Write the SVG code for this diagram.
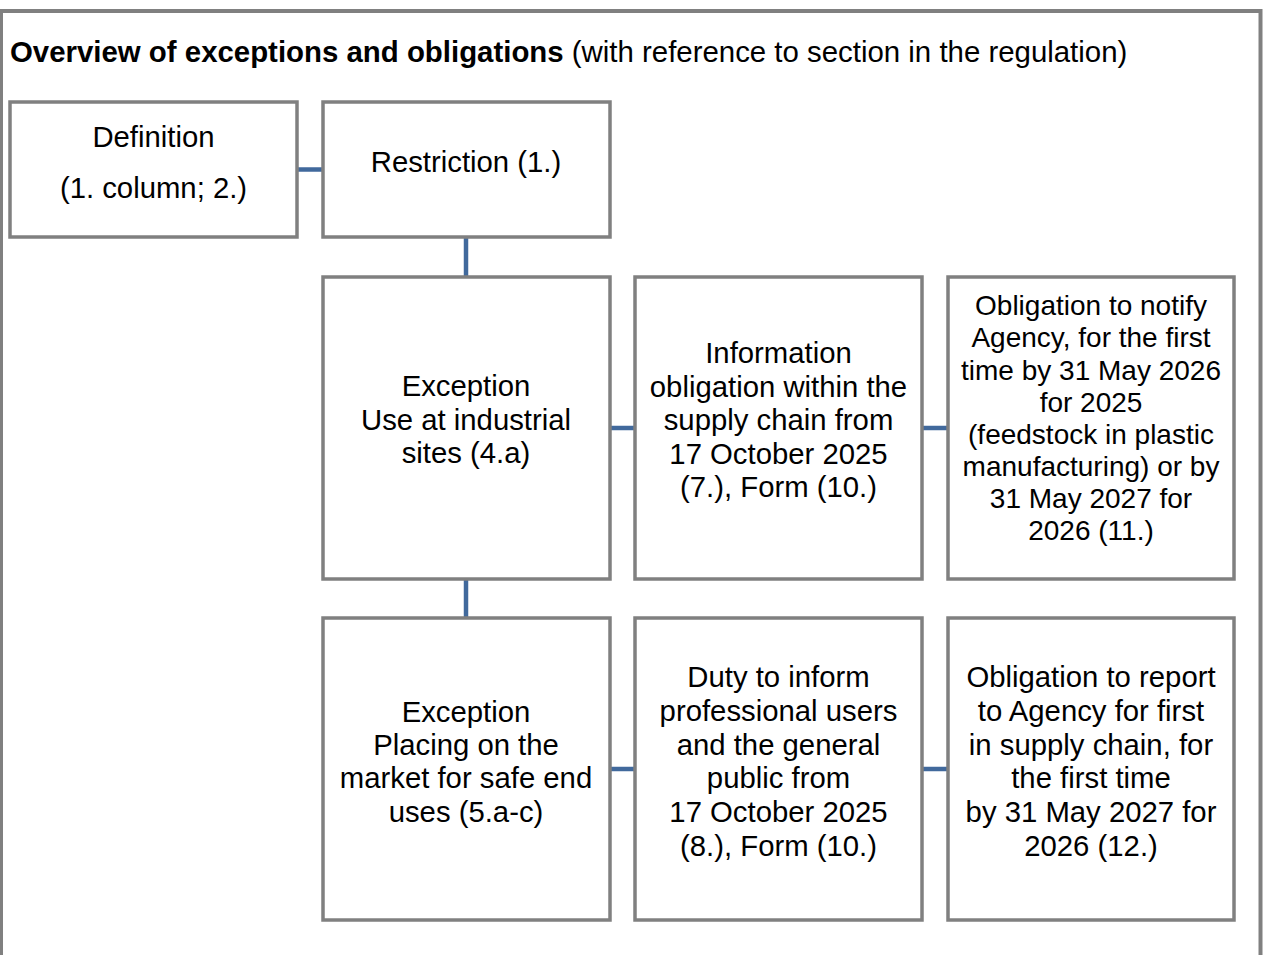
<svg xmlns="http://www.w3.org/2000/svg" width="1263" height="955" viewBox="0 0 1263 955">
<style>
.frame{fill:#ffffff;stroke:#808080;stroke-width:4}
.box{fill:#ffffff;stroke:#808080;stroke-width:3.5}
.conn{stroke:#41699c;stroke-width:4.5;fill:none}
text{font-family:"Liberation Sans",Arial,sans-serif;font-size:29.3px;fill:#000000}
.c{text-anchor:middle}
.s{font-size:28px}
.b{font-weight:bold}
</style>
<rect width="1263" height="955" fill="#ffffff"/>
<rect class="frame" x="1" y="11" width="1259.5" height="960"/>
<text x="10" y="62" style="font-size:29.4px"><tspan class="b">Overview of exceptions and obligations</tspan> (with reference to section in the regulation)</text>
<g id="connectors">
<line class="conn" x1="297" y1="169.5" x2="323" y2="169.5"/>
<line class="conn" x1="466" y1="237" x2="466" y2="277"/>
<line class="conn" x1="466" y1="579" x2="466" y2="618"/>
<line class="conn" x1="610" y1="428" x2="635" y2="428"/>
<line class="conn" x1="922" y1="428" x2="948" y2="428"/>
<line class="conn" x1="610" y1="769" x2="635" y2="769"/>
<line class="conn" x1="922" y1="769" x2="948" y2="769"/>
</g>
<g id="definition">
<rect class="box" x="10" y="102" width="287" height="135"/>
<text class="c" x="153.5" y="147">Definition</text>
<text class="c" x="153.5" y="198">(1. column; 2.)</text>
</g>
<g id="restriction">
<rect class="box" x="323" y="102" width="287" height="135"/>
<text class="c" x="466" y="172">Restriction (1.)</text>
</g>
<g id="exception-industrial">
<rect class="box" x="323" y="277" width="287" height="302"/>
<text class="c" x="466" y="396">Exception</text>
<text class="c" x="466" y="429.5">Use at industrial</text>
<text class="c" x="466" y="463">sites (4.a)</text>
</g>
<g id="information-obligation">
<rect class="box" x="635" y="277" width="287" height="302"/>
<text class="c" x="778.5" y="363">Information</text>
<text class="c" x="778.5" y="396.5">obligation within the</text>
<text class="c" x="778.5" y="430">supply chain from</text>
<text class="c" x="778.5" y="463.5">17 October 2025</text>
<text class="c" x="778.5" y="497">(7.), Form (10.)</text>
</g>
<g id="notify-obligation">
<rect class="box" x="948" y="277" width="286" height="302"/>
<text class="c s" x="1091" y="315">Obligation to notify</text>
<text class="c s" x="1091" y="347.3">Agency, for the first</text>
<text class="c s" x="1091" y="379.5">time by 31 May 2026</text>
<text class="c s" x="1091" y="411.7">for 2025</text>
<text class="c s" x="1091" y="443.8">(feedstock in plastic</text>
<text class="c s" x="1091" y="476">manufacturing) or by</text>
<text class="c s" x="1091" y="508.2">31 May 2027 for</text>
<text class="c s" x="1091" y="540.4">2026 (11.)</text>
</g>
<g id="exception-placing">
<rect class="box" x="323" y="618" width="287" height="302"/>
<text class="c" x="466" y="721.7">Exception</text>
<text class="c" x="466" y="755">Placing on the</text>
<text class="c" x="466" y="788.3">market for safe end</text>
<text class="c" x="466" y="821.5">uses (5.a-c)</text>
</g>
<g id="duty-to-inform">
<rect class="box" x="635" y="618" width="287" height="302"/>
<text class="c" x="778.5" y="687">Duty to inform</text>
<text class="c" x="778.5" y="721">professional users</text>
<text class="c" x="778.5" y="755">and the general</text>
<text class="c" x="778.5" y="788">public from</text>
<text class="c" x="778.5" y="822">17 October 2025</text>
<text class="c" x="778.5" y="856">(8.), Form (10.)</text>
</g>
<g id="report-obligation">
<rect class="box" x="948" y="618" width="286" height="302"/>
<text class="c" x="1091" y="687">Obligation to report</text>
<text class="c" x="1091" y="721">to Agency for first</text>
<text class="c" x="1091" y="755">in supply chain, for</text>
<text class="c" x="1091" y="788">the first time</text>
<text class="c" x="1091" y="822">by 31 May 2027 for</text>
<text class="c" x="1091" y="856">2026 (12.)</text>
</g>
</svg>
